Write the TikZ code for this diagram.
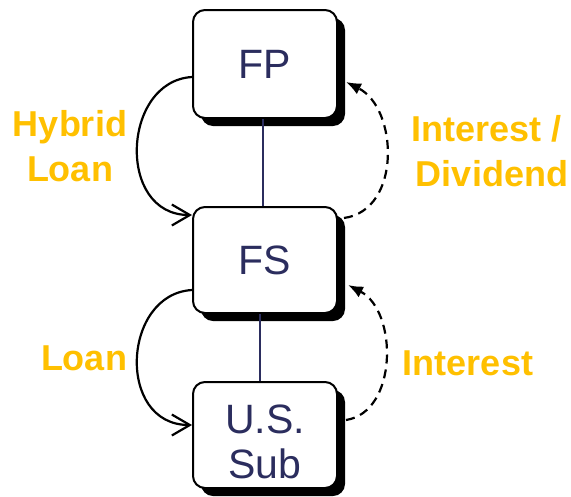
\documentclass[tikz,border=0pt]{standalone}
\usepackage{fontspec}
\setmainfont{Liberation Sans}
\usetikzlibrary{arrows.meta,shadows,calc}
\definecolor{navy}{HTML}{2B2D5E}
\definecolor{gold}{HTML}{FFC000}
\begin{document}
\begin{tikzpicture}[x=1pt,y=-1pt,
  entity/.style={draw=black, line width=2pt, fill=white, rounded corners=12pt,
    minimum width=144pt, minimum height=106pt, inner sep=0pt, text=navy,
    font=\fontsize{41}{45}\selectfont, align=center,
    drop shadow={shadow xshift=8pt, shadow yshift=-8pt, fill=black, opacity=1}},
  lab/.style={text=gold, font=\fontsize{36}{45}\selectfont\bfseries, inner sep=0pt, align=center},
  link/.style={draw=navy, line width=1.2pt},
  flow/.style={line width=2.2pt, -{Straight Barb[length=18pt,width=21pt]}},
  payback/.style={line width=2.2pt, dash pattern=on 9pt off 6pt, -{Latex[length=15pt,width=12pt]}}]
\useasboundingbox (0,0) rectangle (571,496);

% the three entities
\node[entity, minimum height=108pt] (fp) at (265,64) {FP};
\node[entity] (fs) at (265,260) {FS};
\node[entity] (sub) at (265,435) {\rule{0pt}{43pt}U.S.\\Sub};

% ownership links
\draw[link] ($(fp.south)+(-2,0)$) -- ($(fs.north)+(-2,0)$);
\draw[link] ($(fs.south)+(-5,0)$) -- ($(sub.north)+(-5,0)$);

% funding flows (left)
\draw[flow] ($(fp.west)+(0,13)$) .. controls +(-70,4) and +(-76,0) .. ($(fs.west)+(0,-45)$);
\draw[flow] ($(fs.west)+(0,30)$) .. controls +(-70,4) and +(-76,0) .. ($(sub.west)+(0,-10)$);

% returns (right)
\draw[payback] ($(fs.east)+(6,-42)$) .. controls +(58,-8) and +(52,26) .. ($(fp.east)+(8,18)$);
\draw[payback] ($(sub.east)+(8,-15)$) .. controls +(52,-8) and +(50,26) .. ($(fs.east)+(10,25)$);

% labels
\node[lab] (l1) at (70,146.5) {Hybrid\\Loan};
\node[lab] (l2) at (492,151.5) {Interest /\hspace{0.28em}\mbox{}\\Dividend};
\node[lab, anchor=base] (l3) at (84,370) {Loan};
\node[lab, anchor=base] (l4) at (468,375) {Interest};
\end{tikzpicture}
\end{document}
